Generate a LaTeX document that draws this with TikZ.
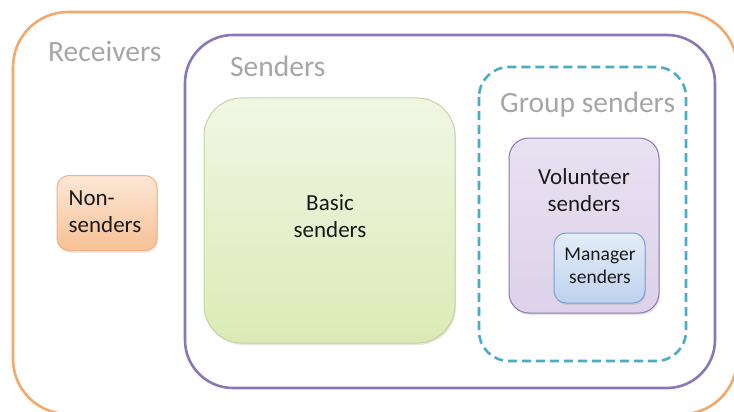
\documentclass[tikz,border=0pt]{standalone}
\usepackage{fontspec}
\setmainfont{Carlito}
\usetikzlibrary{shadows}
\definecolor{recvorange}{HTML}{F2A96C}
\definecolor{sendpurple}{HTML}{8A77B5}
\definecolor{groupteal}{HTML}{4BACC6}
\definecolor{labelgray}{HTML}{A6A6A6}
\definecolor{textdark}{HTML}{1A1A1A}
\definecolor{nontop}{HTML}{FCE7D6}
\definecolor{nonbottom}{HTML}{F7C195}
\definecolor{nonline}{HTML}{F4B183}
\definecolor{basictop}{HTML}{F1F6E4}
\definecolor{basicbottom}{HTML}{DCEAB6}
\definecolor{basicline}{HTML}{C3D69B}
\definecolor{voltop}{HTML}{E8E1F1}
\definecolor{volbottom}{HTML}{DDD2EA}
\definecolor{mantop}{HTML}{E4EDF8}
\definecolor{manbottom}{HTML}{BED2EE}
\definecolor{manline}{HTML}{7FA0CF}
\newcommand{\setwidth}{2.6pt}
\newcommand{\boxwidth}{1pt}

\tikzset{
  setlabel/.style={anchor=base west, text=labelgray, inner sep=0pt,
    font=\fontsize{29.5}{34}\selectfont},
  subset/.style={rounded corners=#1, inner sep=0pt, align=center, text=textdark,
    line width=\boxwidth, font=\fontsize{23}{27}\selectfont,
    drop shadow={shadow xshift=1pt, shadow yshift=-2pt, opacity=0.2}},
  subtext/.style={align=center, text=textdark, font=\fontsize{23}{27}\selectfont},
}

\begin{document}
\begin{tikzpicture}[x=1pt,y=-1pt]
\useasboundingbox (0,0) rectangle (734,412);
\clip (0,0) rectangle (734,412);
\fill[white] (0,0) rectangle (734,412);
% outer sets
\draw[draw=recvorange, line width=\setwidth, rounded corners=55] (13,12) rectangle (737,414);
\draw[draw=sendpurple, line width=\setwidth, rounded corners=48] (185,35) rectangle (715,388);
\draw[draw=groupteal, line width=\setwidth, dashed, dash pattern=on 9pt off 5pt, rounded corners=30] (479,67) rectangle (686,361);
% set labels
\node[setlabel] (receivers) at (48,62) {Receivers};
\node[setlabel] (senders) at (230,77) {Senders};
\node[setlabel] (group) at (500,113) {Group senders};
% inner boxes
\node[subset=12, draw=nonline, top color=nontop, bottom color=nonbottom,
  minimum width=100pt, minimum height=75pt] (nonsend) at (107,213) {};
\node[subtext, align=left] (nontext) at (105,212) {Non-\\senders};
\node[subset=38, draw=basicline, top color=basictop, bottom color=basicbottom,
  minimum width=251pt, minimum height=245pt] (basic) at (329.5,220.5) {};
\node[subtext] (basictext) at (330,216.5) {Basic\\senders};
\node[subset=20, draw=sendpurple, top color=voltop, bottom color=volbottom,
  minimum width=150pt, minimum height=175pt] (volunteer) at (584,225.5) {};
\node[subtext] (voltext) at (584,190.5) {Volunteer\\senders};
\node[subset=12, draw=manline, top color=mantop, bottom color=manbottom,
  minimum width=91pt, minimum height=70pt] (manager) at (599.5,268) {};
\node[subtext, font=\fontsize{19.5}{23}\selectfont] (mantext) at (600,266) {Manager\\senders};
\end{tikzpicture}
\end{document}
